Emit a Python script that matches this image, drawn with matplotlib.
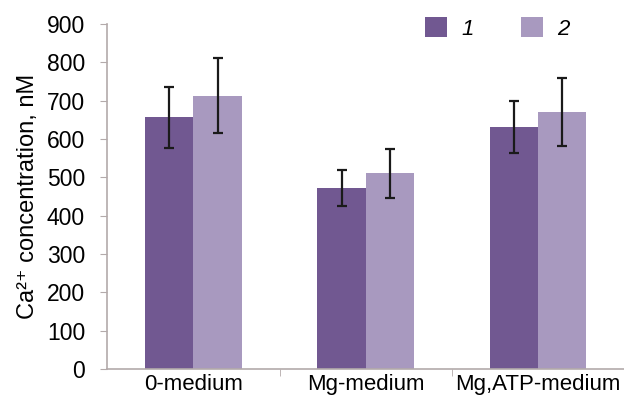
import numpy as np
import matplotlib.pyplot as plt

media = ["0-medium", "Mg-medium", "Mg,ATP-medium"]
series_labels = ["1", "2"]
values_1 = [657, 472, 631]
errors_1 = [80, 46, 67]
values_2 = [713, 510, 670]
errors_2 = [98, 65, 88]

dark = "#715891"
light = "#a899bf"
axis_color = "#b3aaaa"

plt.rcParams['font.family'] = ['Liberation Sans', 'DejaVu Sans']

fig = plt.figure(figsize=(6.24, 4.01), dpi=100)
ax = fig.add_axes([0.172, 0.08, 0.828, 0.86])

x = np.arange(len(media))
w = 0.28
err_kw = dict(ecolor="#1a1a1a", elinewidth=1.6, capsize=3.5, capthick=1.6)
b1 = ax.bar(x - w / 2, values_1, w, yerr=errors_1, color=dark, error_kw=err_kw)
b2 = ax.bar(x + w / 2, values_2, w, yerr=errors_2, color=light, error_kw=err_kw)

ax.set_xlim(-0.5, 2.5)
ax.set_ylim(0, 900)
ax.set_yticks(range(0, 901, 100))
ax.set_xticks(x)
ax.set_xticklabels(media, fontsize=16)
ax.set_xticks([0.5, 1.5], minor=True)
ax.tick_params(axis='x', which='major', length=0, pad=4)
ax.tick_params(axis='x', which='minor', length=5, color=axis_color, direction='out')
ax.tick_params(axis='y', length=5, color=axis_color, labelsize=16.5, pad=11)

for s in ["top", "right"]:
    ax.spines[s].set_visible(False)
for s in ["left", "bottom"]:
    ax.spines[s].set_color(axis_color)
    ax.spines[s].set_linewidth(1.2)

ax.set_ylabel("Ca²⁺ concentration, nM", fontsize=17, labelpad=6)

leg = fig.legend([b1, b2], series_labels, loc="upper left", ncol=2, frameon=False,
                 bbox_to_anchor=(0.681, 0.957), borderpad=0, borderaxespad=0,
                 handlelength=1.0, handleheight=1.0,
                 columnspacing=2.1, handletextpad=0.65, fontsize=16)
for t in leg.get_texts():
    t.set_fontstyle("italic")

fig.savefig("out.png", dpi=100)
